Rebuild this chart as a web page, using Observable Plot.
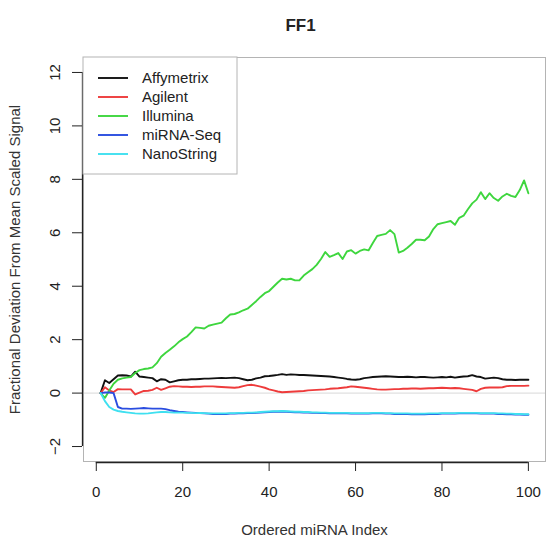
<!DOCTYPE html>
<html>
<head>
<meta charset="utf-8">
<script src="https://cdn.jsdelivr.net/npm/d3@7"></script>
<script src="https://cdn.jsdelivr.net/npm/@observablehq/plot@0.6"></script>
<style>
  html, body { margin: 0; padding: 0; background: #fff; }
  #chart { width: 546px; height: 544px; }
  svg { font-family: "Liberation Sans", Arial, Helvetica, sans-serif; }
</style>
</head>
<body>
<div id="chart"></div>
<script>
// ---- Data ----
const chartTitle = "FF1";
const xLabel = "Ordered miRNA Index";
const yLabel = "Fractional Deviation From Mean Scaled Signal";
const seriesNames = ["Affymetrix", "Agilent", "Illumina", "miRNA-Seq", "NanoString"];
const seriesColors = ["#111111", "#ee3b3b", "#3ed63e", "#2a4de0", "#3fe0f0"];
const xTicks = [0, 20, 40, 60, 80, 100];
const yTicks = [-2, 0, 2, 4, 6, 8, 10, 12];

const affymetrix = [
  0, 0.48, 0.38, 0.52, 0.66, 0.67, 0.66, 0.62, 0.80, 0.62,
  0.60, 0.58, 0.56, 0.44, 0.52, 0.50, 0.40, 0.44, 0.48, 0.50,
  0.50, 0.52, 0.52, 0.53, 0.54, 0.54, 0.55, 0.56, 0.57, 0.56,
  0.57, 0.58, 0.56, 0.52, 0.48, 0.50, 0.55, 0.58, 0.63, 0.64,
  0.66, 0.68, 0.71, 0.68, 0.70, 0.69, 0.68, 0.68, 0.67, 0.66,
  0.65, 0.64, 0.63, 0.62, 0.60, 0.58, 0.56, 0.53, 0.51, 0.50,
  0.52, 0.56, 0.58, 0.60, 0.61, 0.62, 0.63, 0.62, 0.61, 0.60,
  0.60, 0.61, 0.60, 0.59, 0.60, 0.60, 0.59, 0.58, 0.59, 0.60,
  0.59, 0.61, 0.58, 0.60, 0.62, 0.63, 0.67, 0.62, 0.60, 0.54,
  0.56, 0.58, 0.56, 0.52, 0.50, 0.50, 0.49, 0.50, 0.50, 0.50
];
const agilent = [
  0, 0.22, 0.10, 0.04, 0.15, 0.14, 0.14, 0.14, -0.05, 0.02,
  0.08, 0.09, 0.12, 0.20, 0.12, 0.18, 0.24, 0.26, 0.25, 0.24,
  0.24, 0.23, 0.24, 0.24, 0.25, 0.25, 0.25, 0.24, 0.23, 0.22,
  0.21, 0.20, 0.22, 0.26, 0.30, 0.31, 0.28, 0.24, 0.20, 0.14,
  0.10, 0.06, 0.03, 0.04, 0.05, 0.06, 0.07, 0.08, 0.10, 0.11,
  0.12, 0.13, 0.14, 0.16, 0.17, 0.18, 0.20, 0.22, 0.25, 0.24,
  0.22, 0.20, 0.18, 0.16, 0.14, 0.13, 0.13, 0.14, 0.15, 0.15,
  0.16, 0.16, 0.17, 0.17, 0.16, 0.17, 0.18, 0.18, 0.19, 0.20,
  0.19, 0.18, 0.19, 0.18, 0.16, 0.14, 0.12, 0.07, 0.16, 0.20,
  0.21, 0.21, 0.21, 0.22, 0.26, 0.27, 0.27, 0.27, 0.27, 0.28
];
const illumina = [
  0, -0.18, 0.10, 0.35, 0.50, 0.55, 0.58, 0.60, 0.75, 0.86,
  0.90, 0.92, 0.96, 1.12, 1.36, 1.50, 1.62, 1.75, 1.90, 2.02,
  2.12, 2.28, 2.46, 2.44, 2.42, 2.52, 2.56, 2.60, 2.64, 2.80,
  2.94, 2.96, 3.02, 3.10, 3.16, 3.30, 3.44, 3.60, 3.74, 3.82,
  3.98, 4.14, 4.28, 4.25, 4.28, 4.22, 4.22, 4.40, 4.52, 4.64,
  4.80, 5.02, 5.28, 5.10, 5.16, 5.24, 5.02, 5.30, 5.35, 5.22,
  5.32, 5.38, 5.34, 5.62, 5.88, 5.92, 5.96, 6.10, 5.95, 5.26,
  5.32, 5.44, 5.58, 5.74, 5.74, 5.72, 5.86, 6.14, 6.32, 6.36,
  6.40, 6.44, 6.30, 6.56, 6.64, 6.88, 7.10, 7.24, 7.52, 7.26,
  7.48, 7.30, 7.20, 7.36, 7.46, 7.38, 7.34, 7.60, 7.96, 7.48
];
const mirnaSeq = [
  0, 0.02, 0.02, 0.00, -0.52, -0.58, -0.58, -0.59, -0.58, -0.57,
  -0.56, -0.57, -0.58, -0.58, -0.58, -0.60, -0.64, -0.67, -0.70, -0.71,
  -0.72, -0.73, -0.74, -0.75, -0.76, -0.77, -0.78, -0.78, -0.78, -0.78,
  -0.77, -0.77, -0.76, -0.76, -0.75, -0.75, -0.74, -0.73, -0.72, -0.71,
  -0.70, -0.70, -0.69, -0.70, -0.71, -0.72, -0.72, -0.73, -0.73, -0.74,
  -0.74, -0.75, -0.75, -0.76, -0.76, -0.76, -0.76, -0.76, -0.77, -0.77,
  -0.77, -0.77, -0.77, -0.76, -0.76, -0.76, -0.77, -0.77, -0.78, -0.78,
  -0.78, -0.78, -0.79, -0.79, -0.79, -0.79, -0.78, -0.78, -0.78, -0.77,
  -0.77, -0.77, -0.77, -0.76, -0.76, -0.76, -0.76, -0.76, -0.77, -0.77,
  -0.77, -0.77, -0.78, -0.78, -0.79, -0.79, -0.80, -0.80, -0.81, -0.81
];
const nanoString = [
  0, -0.30, -0.52, -0.62, -0.67, -0.70, -0.72, -0.74, -0.76, -0.77,
  -0.77, -0.76, -0.74, -0.72, -0.71, -0.71, -0.72, -0.73, -0.73, -0.73,
  -0.74, -0.74, -0.75, -0.74, -0.75, -0.76, -0.76, -0.76, -0.76, -0.76,
  -0.75, -0.75, -0.74, -0.74, -0.73, -0.73, -0.72, -0.71, -0.70, -0.69,
  -0.68, -0.68, -0.67, -0.68, -0.69, -0.70, -0.70, -0.71, -0.71, -0.72,
  -0.72, -0.73, -0.73, -0.74, -0.74, -0.74, -0.74, -0.74, -0.75, -0.75,
  -0.75, -0.75, -0.75, -0.74, -0.74, -0.74, -0.75, -0.75, -0.76, -0.76,
  -0.76, -0.76, -0.77, -0.77, -0.77, -0.77, -0.76, -0.76, -0.76, -0.75,
  -0.75, -0.75, -0.75, -0.74, -0.74, -0.74, -0.74, -0.74, -0.75, -0.75,
  -0.75, -0.75, -0.76, -0.76, -0.77, -0.77, -0.78, -0.78, -0.79, -0.79
];

// ---- Build tidy table from the arrays ----
const seriesValues = [affymetrix, agilent, illumina, mirnaSeq, nanoString];
const rows = [];
seriesNames.forEach((name, s) => {
  seriesValues[s].forEach((v, k) => rows.push({series: name, index: k + 1, value: v}));
});

// R-style 4% axis extension
const xDomain = [1 - 0.04 * 99, 100 + 0.04 * 99];
const yDomain = [-2 - 0.04 * 14, 12 + 0.04 * 14];

const W = 546, H = 544;
const mLeft = 83, mRight = 1, mTop = 57, mBottom = 83;
const font = "Liberation Sans, Arial, Helvetica, sans-serif";
const textColor = "#222";

const plot = Plot.plot({
  width: W,
  height: H,
  marginLeft: mLeft,
  marginRight: mRight,
  marginTop: mTop,
  marginBottom: mBottom,
  style: {fontFamily: font, fontSize: "15px", color: textColor, background: "#fff", overflow: "visible"},
  x: {domain: xDomain},
  y: {domain: yDomain},
  color: {domain: seriesNames, range: seriesColors},
  marks: [
    Plot.ruleY([0], {stroke: "#d8d8d8", strokeWidth: 1}),
    Plot.lineY(rows, {x: "index", y: "value", z: "series", stroke: "series", strokeWidth: 1.9, strokeLinejoin: "round"}),
    Plot.frame({stroke: "#b4b4b4", strokeWidth: 1}),
    Plot.ruleX([xDomain[0]], {y1: yTicks[0], y2: yTicks[yTicks.length - 1], stroke: "#222", strokeWidth: 1.3, dx: -1}),
    Plot.ruleY([yDomain[0]], {x1: xTicks[0], x2: xTicks[xTicks.length - 1], stroke: "#222", strokeWidth: 1.3, dy: 1}),
    Plot.axisY({ticks: yTicks, tickSize: 10, tickPadding: 13, tickRotate: -90, label: null, stroke: "#222", fontSize: 15, dx: -1}),
    Plot.axisX({ticks: xTicks, tickSize: 9, tickPadding: 15, label: null, stroke: "#222", fontSize: 15, dy: 1}),
    Plot.text([chartTitle], {frameAnchor: "top", dy: -39, dx: -14, fontWeight: "bold", fontSize: 17, fill: textColor}),
    Plot.text([xLabel], {frameAnchor: "bottom", dy: 73, fontSize: 15, fill: "#333"}),
    Plot.text([yLabel], {frameAnchor: "left", dx: -68, rotate: -90, textAnchor: "middle", fontSize: 15, fill: "#333"})
  ]
});

// ---- Legend (top-left, inside the plot box) ----
const svg = d3.select(plot);
const lg = svg.append("g").attr("font-family", font).attr("font-size", 15).attr("text-anchor", "start");
const lgX = mLeft, lgY = mTop, lgW = 154, rowH = 19, lgH = 117;
lg.append("rect").attr("x", lgX).attr("y", lgY).attr("width", lgW).attr("height", lgH)
  .attr("fill", "#fff").attr("stroke", "#b4b4b4");
seriesNames.forEach((name, k) => {
  const cy = lgY + 21 + k * rowH;
  lg.append("line").attr("x1", lgX + 15).attr("x2", lgX + 45).attr("y1", cy).attr("y2", cy)
    .attr("stroke", seriesColors[k]).attr("stroke-width", 1.9);
  lg.append("text").attr("x", lgX + 59).attr("y", cy).attr("dy", "0.35em")
    .attr("text-anchor", "start").attr("fill", textColor).text(name);
});

document.getElementById("chart").appendChild(plot);
</script>
</body>
</html>
